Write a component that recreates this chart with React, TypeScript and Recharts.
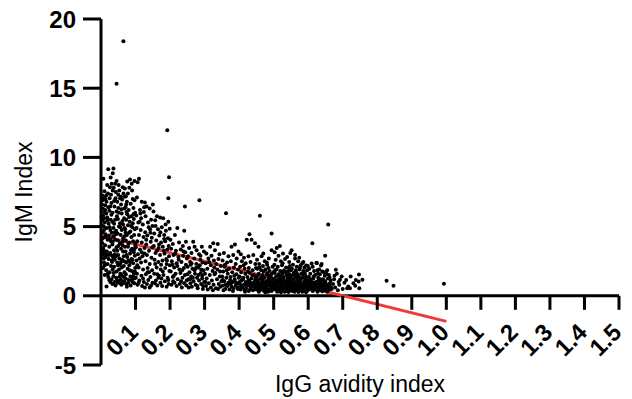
import { ScatterChart, Scatter, XAxis, YAxis, ReferenceLine } from 'recharts'

// chart frame
const W = 632
const H = 399
const MARGIN = { top: 19, right: 13, bottom: 0, left: 21 }
const Y_AXIS_W = 80
const X_AXIS_H = 34
const X_DOMAIN: [number, number] = [0, 1.5]
const Y_DOMAIN: [number, number] = [-5, 20]

const xTicks = [0.1, 0.2, 0.3, 0.4, 0.5, 0.6, 0.7, 0.8, 0.9, 1.0, 1.1, 1.2, 1.3, 1.4, 1.5]
const yTicks = [-5, 0, 5, 10, 15, 20]

// linear fit (IgG avidity vs IgM)
const fitStart = { x: 0, y: 4.35 }
const fitEnd = { x: 1.0, y: -1.85 }

// samples, [avidity, IgM]
const band1: [number, number][] = [
  [0.007,8.45],[0.021,9.15],[0.036,9.2],[0.034,8.85],[0.031,8.1],[0.026,7.85],[0.010,7.55],[0.004,7.25],[0.007,6.95],[0.016,6.8],
  [0.025,7.05],[0.012,6.55],[0.021,6.4],[0.030,6.7],[0.005,6.3],[0.009,6.05],[0.015,5.95],[0.024,6.15],[0.033,6.0],[0.006,5.8],
  [0.018,5.65],[0.028,5.5],[0.004,5.45],[0.011,5.3],[0.022,5.2],[0.033,5.35],[0.008,5.0],[0.016,4.9],[0.027,4.75],[0.005,4.6],
  [0.013,4.45],[0.023,4.35],[0.031,4.55],[0.007,4.2],[0.019,4.05],[0.029,3.95],[0.004,3.8],[0.012,3.65],[0.024,3.55],[0.033,3.7],
  [0.008,3.3],[0.017,3.2],[0.027,3.1],[0.005,2.95],[0.014,2.8],[0.022,2.65],[0.032,2.9],[0.009,2.4],[0.019,2.3],[0.029,2.15],
  [0.006,2.0],[0.015,1.85],[0.025,1.7],[0.034,1.9],[0.011,1.5],[0.021,1.35],[0.030,1.2],[0.016,0.67],[0.027,1.0],[0.006,3.45],
  [0.030,5.85],[0.020,7.4],[0.034,7.6],[0.013,7.0],[0.018,8.0],[0.003,6.6],[0.003,5.1],[0.009,4.75],[0.026,4.1],[0.035,4.3],
  [0.014,3.0],[0.032,2.45],[0.020,1.6],[0.008,2.7],
]

const band2: [number, number][] = [
  [0.041,8.1],[0.037,7.8],[0.043,7.5],[0.050,7.3],[0.055,7.05],[0.065,7.4],[0.069,7.15],[0.039,6.45],[0.045,6.1],[0.060,5.95],
  [0.067,6.3],[0.041,5.5],[0.055,5.25],[0.067,5.6],[0.036,4.9],[0.048,4.5],[0.060,4.75],[0.042,4.05],[0.055,3.8],[0.064,4.15],
  [0.038,3.3],[0.050,2.95],[0.064,3.2],[0.040,2.6],[0.055,2.25],[0.067,2.5],[0.045,1.75],[0.060,1.5],[0.036,1.4],[0.050,1.05],
  [0.065,0.9],[0.042,0.75],[0.047,6.8],[0.058,6.6],[0.052,6.0],[0.046,5.75],[0.062,5.4],[0.038,5.2],[0.052,5.0],[0.068,4.9],
  [0.044,4.7],[0.057,4.4],[0.068,4.3],[0.037,4.25],[0.049,4.0],[0.062,3.65],[0.045,3.5],[0.058,3.4],[0.069,3.55],[0.040,3.0],
  [0.053,2.7],[0.066,2.85],[0.047,2.4],[0.060,2.05],[0.038,2.1],[0.052,1.9],[0.068,1.7],[0.044,1.3],[0.057,1.2],[0.066,1.35],
  [0.048,0.95],[0.059,0.8],[0.039,1.0],[0.063,7.85],[0.045,8.3],[0.053,7.6],[0.059,6.25],[0.064,5.15],[0.043,4.45],[0.050,3.6],
  [0.061,2.6],[0.036,2.75],[0.056,1.6],[0.067,1.05],[0.050,6.35],
]

const band3: [number, number][] = [
  [0.072,7.2],[0.084,8.4],[0.089,8.1],[0.078,7.4],[0.092,7.0],[0.075,6.8],[0.086,6.65],[0.097,6.9],[0.071,6.4],[0.080,6.2],
  [0.094,6.35],[0.076,5.9],[0.088,5.75],[0.099,6.0],[0.073,5.5],[0.083,5.35],[0.095,5.55],[0.078,5.1],[0.091,4.95],[0.070,4.8],
  [0.085,4.65],[0.098,4.8],[0.075,4.4],[0.088,4.25],[0.096,4.4],[0.072,4.0],[0.082,3.85],[0.093,3.95],[0.078,3.55],[0.090,3.4],
  [0.099,3.6],[0.071,3.2],[0.084,3.05],[0.095,3.15],[0.076,2.8],[0.088,2.65],[0.098,2.9],[0.073,2.4],[0.082,2.2],[0.093,2.35],
  [0.077,1.95],[0.089,1.8],[0.099,2.0],[0.072,1.55],[0.085,1.4],[0.095,1.6],[0.079,1.15],[0.091,1.0],[0.074,0.85],[0.086,0.75],
  [0.097,0.9],[0.081,4.55],[0.092,5.25],[0.074,6.05],[0.087,3.3],[0.079,2.55],[0.096,1.25],[0.083,1.85],[0.090,7.6],[0.100,3.75],
]

const band4: [number, number][] = [
  [0.110,8.45],[0.106,8.2],[0.118,6.8],[0.127,6.75],[0.132,6.45],[0.104,7.1],[0.113,6.2],[0.124,6.05],[0.141,6.3],[0.102,5.8],
  [0.116,5.6],[0.129,5.75],[0.145,5.5],[0.108,5.3],[0.121,5.15],[0.136,5.3],[0.149,5.05],[0.103,4.9],[0.115,4.75],[0.128,4.6],
  [0.142,4.8],[0.110,4.4],[0.123,4.25],[0.134,4.35],[0.147,4.2],[0.105,3.95],[0.118,3.85],[0.131,3.7],[0.144,3.9],[0.101,3.5],
  [0.113,3.35],[0.126,3.45],[0.139,3.25],[0.148,3.5],[0.107,3.0],[0.120,2.85],[0.133,2.95],[0.146,2.75],[0.103,2.55],[0.116,2.4],
  [0.129,2.5],[0.141,2.3],[0.109,2.05],[0.122,1.9],[0.135,2.0],[0.148,1.85],[0.104,1.6],[0.117,1.45],[0.130,1.55],[0.143,1.35],
  [0.111,1.1],[0.124,1.0],[0.137,1.15],[0.149,0.95],[0.106,0.8],[0.119,0.7],[0.133,0.85],[0.145,0.75],[0.114,5.95],[0.138,4.95],
  [0.126,3.05],[0.112,2.7],[0.139,1.7],[0.127,0.6],[0.101,1.3],
]

const band5: [number, number][] = [
  [0.152,6.1],[0.171,5.65],[0.180,5.6],[0.195,5.35],[0.157,5.45],[0.158,5.05],[0.165,4.8],[0.176,4.95],[0.188,4.7],[0.199,4.85],
  [0.154,4.5],[0.169,4.35],[0.183,4.4],[0.194,4.15],[0.160,4.0],[0.174,3.85],[0.186,3.95],[0.153,3.6],[0.167,3.45],[0.179,3.55],
  [0.192,3.35],[0.158,3.1],[0.171,2.95],[0.184,3.05],[0.197,2.85],[0.155,2.6],[0.166,2.45],[0.178,2.55],[0.190,2.3],[0.161,2.05],
  [0.173,1.9],[0.186,2.0],[0.198,1.8],[0.154,1.6],[0.168,1.45],[0.181,1.5],[0.193,1.3],[0.159,1.1],[0.172,0.95],[0.185,1.05],
  [0.196,0.85],[0.163,0.75],[0.177,0.7],[0.190,0.65],[0.162,3.25],[0.189,2.65],[0.175,1.25],[0.156,0.9],[0.183,4.1],[0.199,2.2],
]

const band6: [number, number][] = [
  [0.221,4.9],[0.214,4.4],[0.201,4.05],[0.241,4.7],[0.208,3.75],[0.226,3.85],[0.237,3.6],[0.246,3.9],[0.203,3.4],[0.217,3.25],
  [0.231,3.35],[0.244,3.15],[0.210,2.95],[0.224,2.8],[0.238,2.9],[0.249,2.7],[0.205,2.5],[0.219,2.35],[0.233,2.45],[0.246,2.25],
  [0.212,2.05],[0.227,1.9],[0.240,2.0],[0.202,1.75],[0.216,1.6],[0.230,1.65],[0.243,1.5],[0.208,1.35],[0.222,1.2],[0.236,1.3],
  [0.248,1.1],[0.213,0.95],[0.228,0.85],[0.241,0.9],[0.204,0.8],[0.219,0.7],[0.234,0.6],[0.247,0.75],[0.225,2.6],[0.211,1.45],
]

const band7: [number, number][] = [
  [0.267,3.9],[0.277,3.3],[0.292,3.55],[0.255,3.45],[0.262,3.1],[0.284,3.0],[0.298,3.2],[0.252,2.85],[0.270,2.7],[0.288,2.6],
  [0.258,2.45],[0.276,2.3],[0.294,2.4],[0.251,2.1],[0.265,1.95],[0.281,2.05],[0.297,1.85],[0.256,1.7],[0.272,1.6],[0.289,1.65],
  [0.261,1.4],[0.278,1.3],[0.293,1.45],[0.253,1.2],[0.268,1.05],[0.284,1.1],[0.299,1.0],[0.259,0.9],[0.274,0.8],[0.290,0.85],
  [0.263,0.65],[0.280,0.55],[0.296,0.7],[0.254,0.6],[0.271,1.85],[0.286,2.2],[0.260,2.25],[0.282,1.5],[0.295,0.5],[0.266,1.3],
]

const band8: [number, number][] = [
  [0.316,3.55],[0.325,3.8],[0.338,3.75],[0.330,3.3],[0.305,3.05],[0.320,2.9],[0.343,3.0],[0.311,2.7],[0.327,2.55],[0.340,2.65],
  [0.303,2.35],[0.318,2.2],[0.334,2.3],[0.347,2.15],[0.308,1.95],[0.323,1.8],[0.337,1.9],[0.301,1.6],[0.315,1.5],[0.329,1.55],
  [0.344,1.4],[0.306,1.25],[0.321,1.1],[0.336,1.2],[0.349,1.05],[0.312,0.9],[0.326,0.8],[0.341,0.85],[0.304,0.7],[0.318,0.6],
  [0.333,0.55],[0.346,0.65],[0.309,0.45],[0.324,0.4],[0.339,0.5],[0.313,2.45],[0.331,1.65],[0.345,1.75],[0.302,1.0],[0.328,2.05],
]

const band9: [number, number][] = [
  [0.378,3.55],[0.388,3.7],[0.398,3.2],[0.356,3.1],[0.369,2.85],[0.383,2.95],[0.393,2.7],[0.352,2.55],[0.365,2.4],[0.376,2.5],
  [0.390,2.3],[0.358,2.1],[0.371,1.95],[0.385,2.05],[0.397,1.9],[0.354,1.75],[0.367,1.6],[0.380,1.7],[0.392,1.55],[0.351,1.4],
  [0.363,1.3],[0.375,1.35],[0.387,1.2],[0.399,1.3],[0.357,1.05],[0.369,0.95],[0.381,1.0],[0.394,0.9],[0.353,0.75],[0.366,0.7],
  [0.378,0.65],[0.390,0.75],[0.360,0.5],[0.372,0.45],[0.384,0.55],[0.396,0.5],[0.355,0.4],[0.374,1.15],[0.386,1.45],[0.364,1.85],
  [0.396,0.6],[0.370,0.85],[0.382,0.35],[0.359,2.25],
]

const band10: [number, number][] = [
  [0.430,4.45],[0.436,4.05],[0.422,4.05],[0.446,3.8],[0.427,2.85],[0.405,3.0],[0.414,2.75],[0.441,2.95],[0.408,2.5],[0.419,2.35],
  [0.433,2.45],[0.447,2.3],[0.403,2.1],[0.416,1.95],[0.428,2.0],[0.439,1.85],[0.449,2.0],[0.406,1.7],[0.418,1.6],[0.431,1.65],
  [0.443,1.5],[0.401,1.4],[0.412,1.3],[0.424,1.35],[0.436,1.25],[0.448,1.3],[0.407,1.1],[0.419,1.0],[0.430,1.05],[0.442,0.95],
  [0.402,0.85],[0.414,0.8],[0.425,0.75],[0.437,0.8],[0.449,0.7],[0.409,0.6],[0.420,0.55],[0.432,0.5],[0.444,0.6],[0.404,0.45],
  [0.416,0.4],[0.428,0.35],[0.440,0.4],[0.411,1.2],[0.423,0.95],[0.434,0.65],[0.446,1.1],[0.405,0.7],[0.417,0.3],[0.438,1.45],
  [0.426,1.75],[0.413,2.2],[0.450,0.45],[0.421,0.65],[0.433,0.9],
]

const band11: [number, number][] = [
  [0.494,4.5],[0.456,3.55],[0.465,2.85],[0.494,3.3],[0.452,2.6],[0.474,2.5],[0.486,2.7],[0.458,2.3],[0.469,2.15],[0.481,2.25],
  [0.497,2.1],[0.453,1.95],[0.464,1.85],[0.476,1.9],[0.488,1.8],[0.499,1.7],[0.457,1.6],[0.468,1.5],[0.480,1.55],[0.491,1.45],
  [0.451,1.35],[0.462,1.25],[0.473,1.3],[0.485,1.2],[0.496,1.25],[0.455,1.1],[0.466,1.0],[0.478,1.05],[0.489,0.95],[0.500,1.0],
  [0.452,0.9],[0.463,0.85],[0.475,0.8],[0.486,0.85],[0.497,0.75],[0.458,0.7],[0.470,0.65],[0.481,0.7],[0.492,0.6],[0.454,0.55],
  [0.466,0.5],[0.477,0.55],[0.488,0.45],[0.499,0.5],[0.460,0.4],[0.472,0.35],[0.483,0.4],[0.494,0.35],[0.457,0.3],[0.468,1.15],
  [0.479,0.9],[0.490,1.1],[0.461,0.6],[0.473,0.45],[0.484,0.3],[0.495,0.65],[0.467,1.4],[0.482,1.65],[0.459,2.05],[0.471,1.75],
  [0.493,1.55],[0.476,0.25],[0.487,1.3],[0.498,0.9],[0.453,0.75],[0.464,0.95],[0.485,2.0],[0.470,3.05],[0.480,2.4],
]

const band12: [number, number][] = [
  [0.509,3.45],[0.518,3.6],[0.503,3.15],[0.514,2.9],[0.527,3.05],[0.539,2.8],[0.548,3.1],[0.506,2.6],[0.521,2.5],[0.533,2.65],
  [0.545,2.45],[0.502,2.25],[0.512,2.1],[0.524,2.2],[0.536,2.05],[0.547,2.15],[0.508,1.9],[0.519,1.8],[0.530,1.85],[0.541,1.75],
  [0.550,1.85],[0.503,1.65],[0.514,1.55],[0.525,1.6],[0.537,1.5],[0.546,1.55],[0.507,1.4],[0.518,1.3],[0.529,1.35],[0.540,1.25],
  [0.549,1.35],[0.501,1.2],[0.512,1.1],[0.523,1.15],[0.534,1.05],[0.544,1.1],[0.505,0.95],[0.516,0.9],[0.527,0.95],[0.538,0.85],
  [0.548,0.9],[0.502,0.8],[0.513,0.75],[0.524,0.7],[0.535,0.75],[0.545,0.65],[0.509,0.6],[0.520,0.55],[0.531,0.6],[0.542,0.5],
  [0.504,0.45],[0.515,0.4],[0.526,0.45],[0.537,0.35],[0.547,0.4],[0.510,0.3],[0.521,0.25],[0.532,0.3],[0.543,0.28],[0.507,1.05],
  [0.528,1.25],[0.539,0.95],[0.550,0.7],[0.517,0.65],[0.533,0.55],[0.511,0.5],[0.522,0.85],[0.544,0.55],[0.500,0.65],[0.526,2.35],
  [0.543,2.0],[0.519,1.45],[0.535,1.7],[0.549,1.15],[0.504,1.85],[0.516,1.0],[0.530,0.38],[0.541,0.8],[0.512,0.35],
]

const band13: [number, number][] = [
  [0.552,3.3],[0.562,2.95],[0.562,2.7],[0.594,2.19],[0.571,2.5],[0.583,2.35],[0.556,2.25],[0.567,2.1],[0.578,2.2],[0.589,2.05],
  [0.599,2.15],[0.553,1.95],[0.564,1.85],[0.575,1.9],[0.586,1.8],[0.597,1.85],[0.558,1.65],[0.569,1.55],[0.580,1.6],[0.591,1.5],
  [0.551,1.45],[0.562,1.35],[0.573,1.4],[0.584,1.3],[0.595,1.35],[0.556,1.2],[0.567,1.1],[0.578,1.15],[0.589,1.05],[0.599,1.1],
  [0.553,0.95],[0.564,0.9],[0.575,0.95],[0.586,0.85],[0.596,0.9],[0.558,0.75],[0.569,0.7],[0.580,0.75],[0.591,0.65],[0.552,0.6],
  [0.563,0.55],[0.574,0.6],[0.585,0.5],[0.596,0.55],[0.557,0.45],[0.568,0.4],[0.579,0.45],[0.590,0.35],[0.599,0.4],[0.561,0.3],
  [0.572,0.28],[0.583,0.3],[0.594,0.25],[0.555,1.05],[0.566,0.8],[0.577,1.25],[0.588,0.95],[0.598,0.7],[0.560,1.55],[0.571,0.5],
  [0.582,0.65],[0.593,1.2],[0.554,0.35],[0.565,1.7],[0.576,2.0],[0.587,1.45],[0.597,0.6],[0.559,0.85],[0.570,1.3],[0.581,0.4],
  [0.592,0.8],[0.586,2.45],[0.574,2.75],[0.565,1.0],[0.590,1.65],
]

const band14: [number, number][] = [
  [0.612,3.8],[0.649,2.9],[0.625,2.35],[0.639,2.3],[0.610,2.33],[0.624,2.38],[0.637,2.19],[0.613,2.1],[0.627,1.85],[0.641,1.75],
  [0.603,1.95],[0.617,1.8],[0.632,1.9],[0.646,1.7],[0.655,1.85],[0.606,1.6],[0.620,1.5],[0.634,1.55],[0.648,1.45],[0.660,1.5],
  [0.602,1.35],[0.615,1.25],[0.629,1.3],[0.643,1.2],[0.657,1.25],[0.665,1.1],[0.608,1.1],[0.622,1.0],[0.636,1.05],[0.650,0.95],
  [0.663,0.9],[0.604,0.85],[0.618,0.8],[0.631,0.85],[0.645,0.75],[0.658,0.8],[0.611,0.65],[0.625,0.6],[0.639,0.65],[0.652,0.55],
  [0.666,0.6],[0.605,0.5],[0.619,0.45],[0.633,0.5],[0.647,0.4],[0.661,0.45],[0.613,0.35],[0.627,0.3],[0.641,0.32],[0.655,0.3],
  [0.601,0.7],[0.616,1.4],[0.630,1.1],[0.644,0.55],[0.659,0.7],[0.607,1.2],[0.621,0.7],[0.635,0.4],[0.649,1.05],[0.662,1.3],
  [0.614,0.95],[0.628,1.6],[0.642,0.9],[0.653,1.6],
]

const band15: [number, number][] = [
  [0.680,1.88],[0.683,1.59],[0.692,1.16],[0.723,1.4],[0.747,1.54],[0.757,1.16],[0.746,1.03],[0.721,0.55],[0.713,0.55],[0.736,0.72],
  [0.748,0.55],[0.690,0.8],[0.697,1.4],[0.731,0.9],[0.716,0.67],[0.675,1.2],[0.678,0.6],[0.686,0.4],[0.672,0.85],[0.705,0.95],
  [0.700,0.5],[0.676,1.45],[0.688,1.0],[0.710,1.15],[0.738,1.15],
]

// second pass over the crowded areas
const extraLow: [number, number][] = [
  [0.012,6.2],[0.019,5.45],[0.027,6.45],[0.038,6.85],[0.049,5.55],[0.061,6.95],[0.073,6.6],[0.081,5.7],[0.094,5.9],[0.009,5.6],
  [0.025,4.95],[0.040,4.6],[0.056,4.95],[0.071,4.55],[0.087,5.05],[0.014,4.25],[0.034,3.9],[0.047,3.25],[0.063,3.9],[0.079,3.75],
  [0.096,3.35],[0.006,3.1],[0.022,2.95],[0.043,2.85],[0.058,2.45],[0.074,2.95],[0.091,2.6],[0.011,2.2],[0.031,2.55],[0.049,2.2],
  [0.066,2.15],[0.084,2.45],[0.098,1.75],[0.018,1.55],[0.037,1.65],[0.054,1.4],[0.071,1.25],[0.088,1.15],[0.024,1.15],[0.046,1.15],
  [0.062,1.0],[0.079,0.95],[0.093,1.4],[0.033,0.85],[0.056,0.9],[0.075,0.65],[0.003,4.1],[0.002,5.75],[0.004,6.9],[0.008,7.1],
  [0.015,7.25],[0.029,7.3],[0.042,7.05],[0.058,7.15],[0.069,7.75],[0.082,7.8],[0.076,8.25],[0.097,8.3],[0.028,8.55],[0.051,8.0],
]

const extraMid: [number, number][] = [
  [0.105,2.2],[0.118,3.15],[0.131,4.05],[0.143,4.55],[0.112,5.35],[0.125,6.4],[0.150,6.6],[0.162,5.75],[0.172,4.6],[0.187,5.15],
  [0.168,3.7],[0.182,3.25],[0.196,3.6],[0.157,2.3],[0.174,2.25],[0.191,2.55],[0.163,1.55],[0.179,1.75],[0.195,1.15],[0.122,1.25],
  [0.135,1.7],[0.109,0.95],[0.141,0.6],[0.166,1.3],[0.207,2.25],[0.221,2.15],[0.235,1.85],[0.250,1.55],[0.262,2.35],[0.275,2.0],
  [0.290,1.9],[0.209,1.05],[0.232,1.05],[0.258,1.2],[0.279,0.7],[0.293,1.25],[0.215,3.05],[0.239,3.2],[0.271,3.55],[0.288,2.9],
]

const extraDense: [number, number][] = [
  [0.352,1.15],[0.361,0.8],[0.377,0.9],[0.389,1.0],[0.401,1.0],[0.410,0.75],[0.418,0.85],[0.427,1.15],[0.435,0.7],[0.443,0.8],
  [0.451,1.15],[0.459,0.85],[0.465,0.7],[0.471,0.95],[0.478,0.6],[0.483,1.0],[0.489,0.7],[0.495,0.85],[0.501,0.9],[0.506,0.7],
  [0.511,0.95],[0.517,0.8],[0.522,1.0],[0.527,0.6],[0.532,0.85],[0.538,0.65],[0.543,0.9],[0.548,0.75],[0.553,0.8],[0.558,0.55],
  [0.563,0.7],[0.568,0.9],[0.573,0.8],[0.578,0.6],[0.583,0.85],[0.588,0.6],[0.593,0.75],[0.598,0.95],[0.603,0.6],[0.608,0.8],
  [0.613,0.55],[0.618,0.65],[0.623,0.85],[0.628,0.55],[0.633,0.7],[0.638,0.8],[0.643,0.45],[0.648,0.6],[0.653,0.75],[0.658,0.55],
  [0.663,0.65],[0.668,0.5],[0.485,1.45],[0.515,1.2],[0.545,1.4],[0.575,1.05],[0.605,1.05],[0.635,1.2],[0.455,1.5],[0.525,1.7],
]

const outliers: [number, number][] = [
  [0.065,18.4],[0.045,15.33],[0.192,11.96],[0.197,8.57],[0.195,7.05],[0.285,6.9],[0.243,6.45],[0.362,5.97],
  [0.460,5.78],[0.658,5.15],[0.827,1.08],[0.847,0.72],[0.993,0.87],
]

const points = [
  ...band1, ...band2, ...band3, ...band4, ...band5, ...band6, ...band7, ...band8,
  ...band9, ...band10, ...band11, ...band12, ...band13, ...band14, ...band15,
  ...extraLow, ...extraMid, ...extraDense, ...outliers,
].map(([x, y]) => ({ x, y }))

const PLOT_H = H - MARGIN.top - MARGIN.bottom - X_AXIS_H
// x axis sits on y = 0, not at the bottom of the plot
const ZERO_SHIFT = (PLOT_H * (0 - Y_DOMAIN[0])) / (Y_DOMAIN[1] - Y_DOMAIN[0])

function XTick(props: any) {
  const { x, y, payload } = props
  const y0 = y - ZERO_SHIFT
  const tx = x + 4
  const ty = y0 + 38
  return (
    <g>
      <line x1={x} x2={x} y1={y0} y2={y0 + 14} stroke="#000" strokeWidth={3} />
      <text
        x={tx}
        y={ty}
        textAnchor="end"
        transform={`rotate(-45, ${tx}, ${ty})`}
        style={{ fontSize: 24, fontWeight: 700 }}
        fill="#000"
      >
        {Number(payload.value).toFixed(1)}
      </text>
    </g>
  )
}

function YTick(props: any) {
  const { x, y, payload } = props
  return (
    <text x={x} y={y} dy="0.355em" textAnchor="end" style={{ fontSize: 24, fontWeight: 700 }} fill="#000">
      {payload.value}
    </text>
  )
}

const dot = (p: any) => <circle cx={p.cx} cy={p.cy} r={2} fill="#000" />

export default function App() {
  return (
    <div style={{ width: W, height: H, fontFamily: "'Liberation Sans', Arial, sans-serif" }}>
      <style>{'body{margin:0}'}</style>
      <ScatterChart width={W} height={H} margin={MARGIN}>
        <XAxis
          type="number"
          dataKey="x"
          domain={X_DOMAIN}
          ticks={xTicks}
          interval={0}
          height={X_AXIS_H}
          axisLine={false}
          tickLine={false}
          tickSize={0}
          tickMargin={0}
          tick={(p: any) => <XTick {...p} />}
          label={{ value: 'IgG avidity index', position: 'insideBottom', offset: 7, style: { fontSize: 23, fill: '#000' } }}
        />
        <YAxis
          type="number"
          dataKey="y"
          domain={Y_DOMAIN}
          ticks={yTicks}
          interval={0}
          width={Y_AXIS_W}
          axisLine={{ stroke: '#000', strokeWidth: 3 }}
          tickLine={{ stroke: '#000', strokeWidth: 3 }}
          tickSize={18}
          tickMargin={7}
          tick={(p: any) => <YTick {...p} />}
          label={{ value: 'IgM Index', angle: -90, position: 'center', dx: -37, style: { fontSize: 23, fill: '#000' } }}
        />
        <ReferenceLine y={0} stroke="#000" strokeWidth={3} />
        <Scatter data={points} shape={dot} isAnimationActive={false} />
        <ReferenceLine segment={[fitStart, fitEnd]} stroke="#ee3a3a" strokeWidth={3} />
      </ScatterChart>
    </div>
  )
}
